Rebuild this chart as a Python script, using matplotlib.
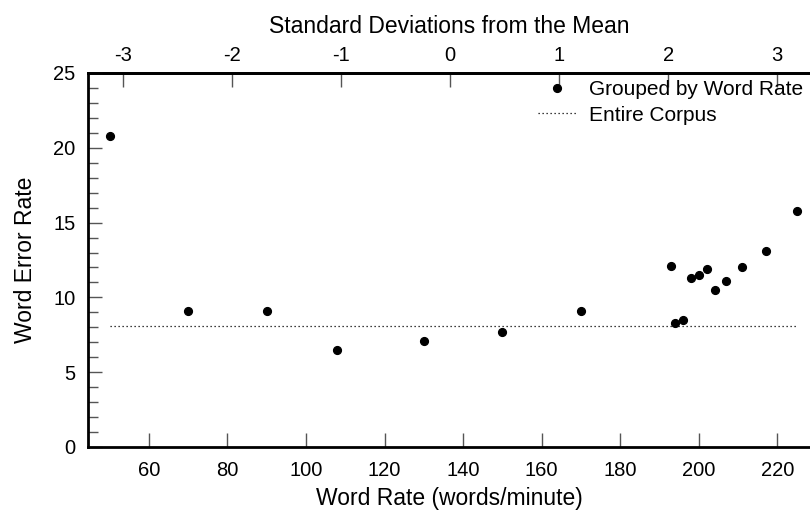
import numpy as np
import matplotlib.pyplot as plt

plt.rcParams['font.family'] = ['Liberation Sans', 'DejaVu Sans']
plt.rcParams['axes.unicode_minus'] = False

# word rate (words/minute) and word error rate per group
word_rate = [50, 70, 90, 108, 130, 150, 170, 193, 194, 196, 198, 200, 202, 204, 207, 211, 217, 225]
wer = [20.8, 9.1, 9.1, 6.5, 7.1, 7.7, 9.1, 12.1, 8.3, 8.5, 11.3, 11.5, 11.9, 10.5, 11.1, 12.0, 13.1, 15.8]

corpus_span = [50, 225]
corpus_wer = 8.1

rate_mean = 136.7
rate_std = 27.75

fs_tick = 14.5
fs_lab = 16.5
fs_leg = 15
tick_col = '#555555'

fig = plt.figure(figsize=(8.1, 5.14), dpi=100)
ax = fig.add_axes([88/810, 67/514, 1 - 88/810, 374/514])

ax.plot(word_rate, wer, 'o', color='k', ms=5.6, label='Grouped by Word Rate')
ax.plot(corpus_span, [corpus_wer, corpus_wer], color='k', lw=0.9,
        linestyle=(0, (1, 2.2)), label='Entire Corpus')

ax.set_xlim(44.5, 228.3)
ax.set_ylim(0, 25)
ax.set_xticks(np.arange(60, 221, 20))
ax.set_yticks(np.arange(0, 26, 5))
ax.set_yticks(np.arange(0, 26, 1), minor=True)

for s in ['left', 'bottom', 'top']:
    ax.spines[s].set_linewidth(2)
ax.spines['right'].set_visible(False)

ax.tick_params(axis='both', which='major', direction='in', length=10, width=1,
               color=tick_col, labelsize=fs_tick)
ax.tick_params(axis='x', which='major', pad=10)
ax.tick_params(axis='y', which='major', pad=9)
ax.tick_params(axis='y', which='minor', direction='in', length=7, width=1, color=tick_col)

ax.set_xlabel('Word Rate (words/minute)', fontsize=fs_lab, labelpad=5)
ax.set_ylabel('Word Error Rate', fontsize=fs_lab, labelpad=12)

sec = ax.secondary_xaxis('top', functions=(lambda x: (x - rate_mean) / rate_std,
                                             lambda z: z * rate_std + rate_mean))
sec.set_xticks(np.arange(-3, 4, 1))
sec.tick_params(direction='in', length=10, width=1, color=tick_col,
                labelsize=fs_tick, pad=6)
sec.spines['top'].set_linewidth(2)
sec.set_xlabel('Standard Deviations from the Mean', fontsize=fs_lab, labelpad=9)

ax.legend(loc='upper right', bbox_to_anchor=(1.0, 1.0), frameon=False, fontsize=fs_leg,
          handlelength=1.9, handletextpad=0.55, borderaxespad=0.15, labelspacing=0.3,
          borderpad=0.2)

fig.savefig('out.png', dpi=100)
